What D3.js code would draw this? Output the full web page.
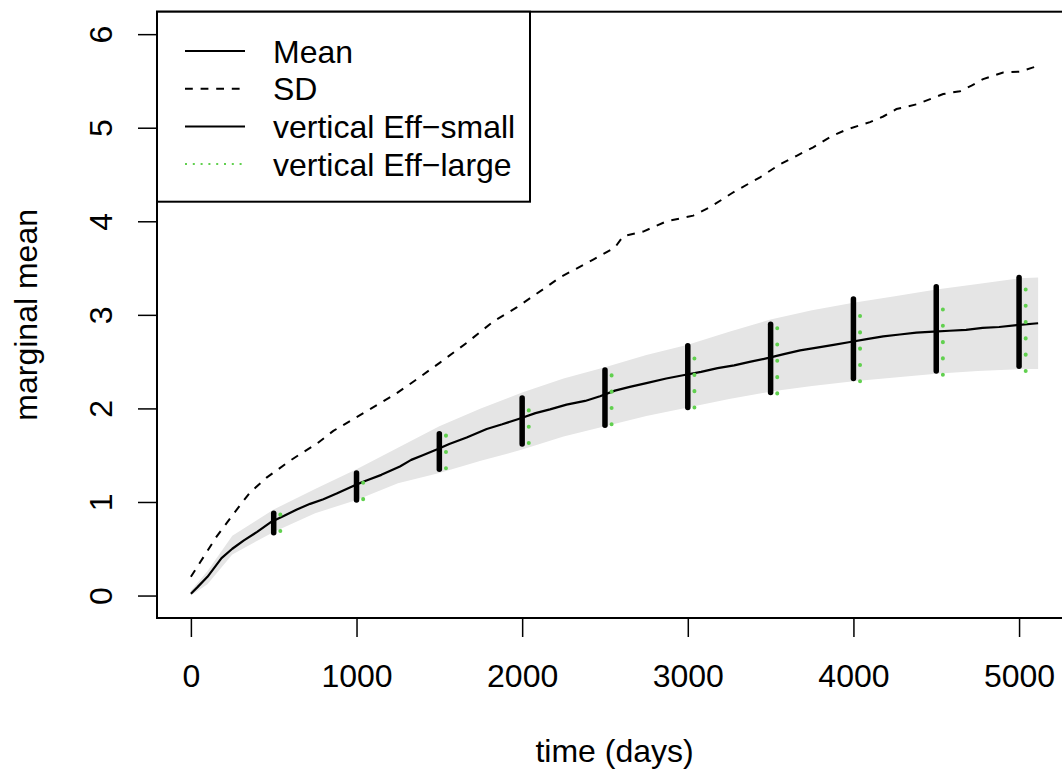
<!DOCTYPE html>
<html>
<head>
<meta charset="utf-8">
<script src="https://cdn.jsdelivr.net/npm/d3@7"></script>
<style>
  body { margin: 0; background: #fff; }
  text { font-family: "Liberation Sans", Arial, Helvetica, sans-serif; fill: #000; }
</style>
</head>
<body>
<script>
// values
var meanTime = [0, 40, 100, 185, 250, 320, 400, 487, 560, 640, 720, 800, 880, 990, 1060, 1150, 1262, 1330, 1400, 1484,
  1560, 1665, 1786, 1880, 1983, 2080, 2168, 2268, 2380, 2470, 2560, 2650, 2750, 2870, 2987, 3080, 3180, 3280, 3380,
  3487, 3580, 3678, 3780, 3880, 3980, 4080, 4180, 4280, 4380, 4483, 4580, 4680, 4780, 4880, 4986, 5115];
var meanValue = [0.02, 0.09, 0.20, 0.40, 0.50, 0.59, 0.68, 0.79, 0.85, 0.92, 0.98, 1.03, 1.09, 1.18, 1.23, 1.29, 1.38, 1.45, 1.50, 1.56,
  1.62, 1.69, 1.78, 1.83, 1.89, 1.95, 1.99, 2.04, 2.08, 2.13, 2.19, 2.23, 2.27, 2.32, 2.36, 2.39, 2.43, 2.46, 2.50,
  2.54, 2.58, 2.62, 2.65, 2.68, 2.71, 2.74, 2.77, 2.79, 2.81, 2.82, 2.83, 2.84, 2.86, 2.87, 2.89, 2.91];

var sdTime = [0, 54, 155, 256, 356, 457, 598, 658, 758, 860, 1061, 1232, 1363, 1504, 1665, 1826, 1967, 2148, 2228, 2429,
  2560, 2610, 2731, 2872, 3033, 3134, 3275, 3436, 3557, 3657, 3757, 3868, 3958, 4100, 4180, 4260, 4381, 4542, 4643,
  4713, 4783, 4904, 5006, 5076, 5115];
var sdValue = [0.20, 0.35, 0.63, 0.87, 1.10, 1.26, 1.44, 1.51, 1.62, 1.76, 1.97, 2.15, 2.31, 2.49, 2.70, 2.93, 3.08, 3.30, 3.40, 3.59,
  3.72, 3.84, 3.89, 4.00, 4.06, 4.15, 4.31, 4.47, 4.61, 4.70, 4.79, 4.91, 4.98, 5.06, 5.12, 5.20, 5.25, 5.36, 5.39,
  5.45, 5.52, 5.59, 5.60, 5.64, 5.66];

var bandTime = [0, 100, 250, 500, 750, 1000, 1250, 1500, 1750, 2000, 2250, 2500, 2750, 3000, 3250, 3500, 3750, 4000, 4250, 4500, 4750, 5000, 5115];
var bandLow  = [0.00, 0.12, 0.44, 0.68, 0.88, 1.02, 1.20, 1.31, 1.44, 1.56, 1.70, 1.81, 1.92, 2.01, 2.10, 2.18, 2.24, 2.29, 2.33, 2.37, 2.40, 2.42, 2.42];
var bandHigh = [0.05, 0.26, 0.64, 0.92, 1.14, 1.35, 1.58, 1.81, 2.00, 2.17, 2.32, 2.44, 2.57, 2.68, 2.82, 2.95, 3.05, 3.13, 3.20, 3.27, 3.33, 3.39, 3.40];

var effTime = [500, 1000, 1500, 2000, 2500, 3000, 3500, 4000, 4500, 5000];
var smallLow  = [0.67, 1.02, 1.35, 1.62, 1.82, 2.01, 2.17, 2.32, 2.40, 2.45];
var smallHigh = [0.88, 1.31, 1.73, 2.11, 2.41, 2.67, 2.90, 3.17, 3.30, 3.40];
var largeLow  = [0.69, 1.03, 1.36, 1.63, 1.83, 2.01, 2.16, 2.29, 2.36, 2.40];
var largeHigh = [0.90, 1.25, 1.76, 2.03, 2.40, 2.60, 2.90, 3.05, 3.12, 3.32];
var largeShift = 40;

var xTicks = [0, 1000, 2000, 3000, 4000, 5000];
var yTicks = [0, 1, 2, 3, 4, 5, 6];
var legendLabels = ["Mean", "SD", "vertical Eff\u2212small", "vertical Eff\u2212large"];

var svgWidth = 1062;
var svgHeight = 771;
var box = { left: 157, top: 11.7, right: 1072, bottom: 618 };
var fontSize = 32;
var green = "#61D04F";

var svg = d3.select("body").append("svg")
  .attr("width", svgWidth)
  .attr("height", svgHeight);

svg.append("rect").attr("width", svgWidth).attr("height", svgHeight).attr("fill", "#fff");

// R style 4% padding around xlim c(0, 5115) and ylim c(0, 6)
var x = d3.scaleLinear().domain([-0.04 * 5115, 5115 * 1.04]).range([box.left, box.right]);
var y = d3.scaleLinear().domain([-0.24, 6.24]).range([box.bottom, box.top]);

var band = d3.area()
  .x(function(d, i) { return x(bandTime[i]); })
  .y0(function(d, i) { return y(bandLow[i]); })
  .y1(function(d, i) { return y(bandHigh[i]); });

svg.append("path")
  .datum(bandTime)
  .attr("d", band)
  .attr("fill", "#E5E5E5");

var meanLine = d3.line()
  .x(function(d, i) { return x(meanTime[i]); })
  .y(function(d) { return y(d); });

svg.append("path")
  .datum(meanValue)
  .attr("d", meanLine)
  .attr("fill", "none")
  .attr("stroke", "#000")
  .attr("stroke-width", 2.2)
  .attr("stroke-linejoin", "round");

var sdLine = d3.line()
  .x(function(d, i) { return x(sdTime[i]); })
  .y(function(d) { return y(d); });

svg.append("path")
  .datum(sdValue)
  .attr("d", sdLine)
  .attr("fill", "none")
  .attr("stroke", "#000")
  .attr("stroke-width", 2)
  .attr("stroke-dasharray", "7.8,7.8");

// vertical bars, small effect (solid) and large effect (dotted green)
svg.selectAll(".small")
  .data(effTime)
  .enter().append("line")
  .attr("class", "small")
  .attr("x1", function(d) { return x(d); })
  .attr("x2", function(d) { return x(d); })
  .attr("y1", function(d, i) { return y(smallLow[i]); })
  .attr("y2", function(d, i) { return y(smallHigh[i]); })
  .attr("stroke", "#000")
  .attr("stroke-width", 5.5)
  .attr("stroke-linecap", "round");

svg.selectAll(".large")
  .data(effTime)
  .enter().append("line")
  .attr("class", "large")
  .attr("x1", function(d) { return x(d + largeShift); })
  .attr("x2", function(d) { return x(d + largeShift); })
  .attr("y1", function(d, i) { return y(largeLow[i]); })
  .attr("y2", function(d, i) { return y(largeHigh[i]); })
  .attr("stroke", green)
  .attr("stroke-width", 4)
  .attr("stroke-linecap", "round")
  .attr("stroke-dasharray", "0.1,16.2");

// axes
var bottomAxis = d3.axisBottom(x).tickValues(xTicks).tickSize(19).tickSizeOuter(0).tickFormat(d3.format("d"));
var xAxisG = svg.append("g")
  .attr("transform", `translate(0, ${box.bottom})`)
  .call(bottomAxis);
xAxisG.select(".domain").attr("d", `M${x(0)},0H${x(5000)}`).attr("stroke-width", 1.5);
xAxisG.selectAll(".tick line").attr("stroke-width", 1.5);
xAxisG.selectAll(".tick text")
  .attr("y", 0).attr("dy", null)
  .attr("transform", "translate(0, 69)")
  .style("font-size", fontSize + "px")
  .style("font-family", "'Liberation Sans', Arial, sans-serif");

var leftAxis = d3.axisLeft(y).tickValues(yTicks).tickSize(19).tickSizeOuter(0).tickFormat(d3.format("d"));
var yAxisG = svg.append("g")
  .attr("transform", `translate(${box.left}, 0)`)
  .call(leftAxis);
yAxisG.select(".domain").attr("d", `M0,${y(0)}V${y(6)}`).attr("stroke-width", 1.5);
yAxisG.selectAll(".tick line").attr("stroke-width", 1.5);
yAxisG.selectAll(".tick text")
  .attr("x", 0).attr("dy", null)
  .attr("text-anchor", "middle")
  .attr("transform", "translate(-45, 0) rotate(-90)")
  .style("font-size", fontSize + "px")
  .style("font-family", "'Liberation Sans', Arial, sans-serif");

// plot box
svg.append("rect")
  .attr("x", box.left).attr("y", box.top)
  .attr("width", box.right - box.left).attr("height", box.bottom - box.top)
  .attr("fill", "none").attr("stroke", "#000").attr("stroke-width", 2);

// axis titles
svg.append("text")
  .attr("x", (box.left + box.right) / 2)
  .attr("y", 762)
  .attr("text-anchor", "middle")
  .style("font-size", fontSize + "px")
  .text("time (days)");

svg.append("text")
  .attr("transform", `translate(37, ${(box.top + box.bottom) / 2}) rotate(-90)`)
  .attr("text-anchor", "middle")
  .style("font-size", fontSize + "px")
  .text("marginal mean");

// legend
var legend = svg.append("g");
legend.append("rect")
  .attr("x", box.left).attr("y", box.top)
  .attr("width", 373).attr("height", 190)
  .attr("fill", "#fff").attr("stroke", "#000").attr("stroke-width", 2);

var legendStroke = ["#000", "#000", "#000", green];
var legendDash = [null, "7.8,7.8", null, "2,5.8"];
var rowY = function(i) { return 51 + i * 37.7; };

legend.selectAll(".key")
  .data(legendLabels)
  .enter().append("line")
  .attr("class", "key")
  .attr("x1", 185).attr("x2", 245)
  .attr("y1", function(d, i) { return rowY(i); })
  .attr("y2", function(d, i) { return rowY(i); })
  .attr("stroke", function(d, i) { return legendStroke[i]; })
  .attr("stroke-width", 2)
  .attr("stroke-dasharray", function(d, i) { return legendDash[i]; });

legend.selectAll(".lab")
  .data(legendLabels)
  .enter().append("text")
  .attr("class", "lab")
  .attr("x", 273)
  .attr("y", function(d, i) { return rowY(i); })
  .attr("dy", "0.36em")
  .style("font-size", fontSize + "px")
  .text(function(d) { return d; });
</script>
</body>
</html>
